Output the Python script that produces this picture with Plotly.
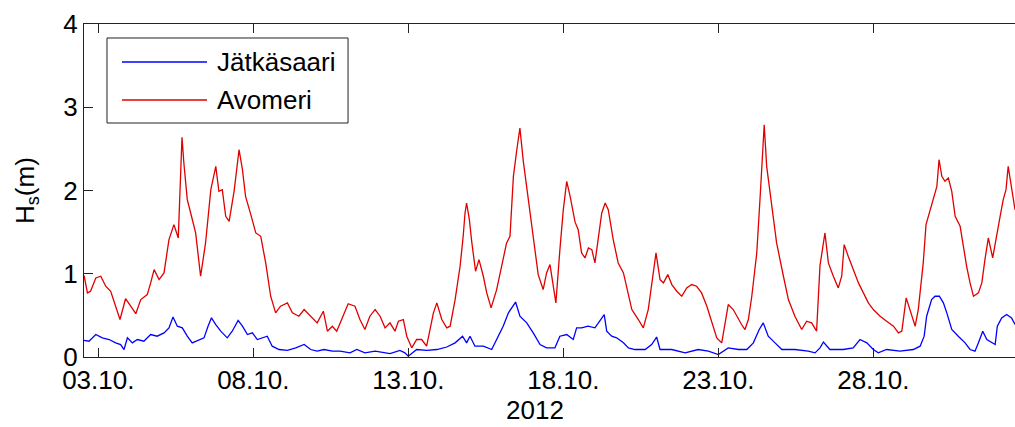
import pandas as pd
import plotly.graph_objects as go

# ---- data (days since 2012-10-03 00:00, significant wave height in m) ----
avomeri_days = [-0.46, -0.35, -0.25, -0.08, 0.08, 0.24, 0.40, 0.56, 0.70, 0.88, 1.05, 1.21, 1.37, 1.58,
                1.69, 1.80, 1.96, 2.12, 2.28, 2.44, 2.58, 2.66, 2.70, 2.76, 2.87, 2.98, 3.14, 3.30, 3.46,
                3.63, 3.79, 3.89, 4.00, 4.11, 4.22, 4.38, 4.54, 4.65, 4.75, 4.92, 5.08, 5.24, 5.40, 5.56,
                5.72, 5.88, 6.10, 6.26, 6.47, 6.64, 6.85, 7.06, 7.26, 7.39, 7.55, 7.69, 7.85, 8.06, 8.28,
                8.44, 8.60, 8.76, 8.93, 9.09, 9.25, 9.41, 9.57, 9.68, 9.84, 9.95, 10.11, 10.27, 10.43,
                10.59, 10.70, 10.81, 10.92, 11.08, 11.24, 11.35, 11.51, 11.67, 11.77, 11.83, 11.88, 11.97,
                12.05, 12.17, 12.28, 12.42, 12.53, 12.67, 12.85, 13.01, 13.17, 13.28, 13.39, 13.50, 13.60,
                13.71, 13.82, 13.98, 14.09, 14.19, 14.35, 14.46, 14.57, 14.68, 14.76, 14.89, 15.00, 15.11,
                15.22, 15.38, 15.48, 15.59, 15.70, 15.81, 15.92, 16.02, 16.13, 16.24, 16.35, 16.45, 16.61,
                16.77, 16.94, 17.10, 17.21, 17.42, 17.58, 17.74, 17.88, 17.99, 18.12, 18.23, 18.37, 18.50,
                18.66, 18.82, 18.98, 19.14, 19.30, 19.46, 19.63, 19.79, 19.95, 20.11, 20.22, 20.32, 20.48,
                20.65, 20.75, 20.86, 20.97, 21.08, 21.24, 21.35, 21.42, 21.48, 21.56, 21.72, 21.88, 22.10,
                22.26, 22.47, 22.69, 22.85, 23.01, 23.17, 23.28, 23.44, 23.55, 23.71, 23.87, 23.98, 24.06,
                24.19, 24.35, 24.52, 24.68, 24.84, 25.00, 25.22, 25.43, 25.65, 25.81, 25.92, 26.06, 26.18,
                26.35, 26.45, 26.61, 26.70, 26.83, 26.94, 27.05, 27.12, 27.21, 27.31, 27.42, 27.53, 27.64,
                27.80, 27.90, 28.01, 28.12, 28.23, 28.39, 28.50, 28.60, 28.71, 28.85, 28.98, 29.09, 29.19,
                29.28, 29.35, 29.46, 29.57]
avomeri_hs = [0.98, 0.77, 0.79, 0.95, 0.97, 0.85, 0.79, 0.60, 0.45, 0.70, 0.60, 0.52, 0.69, 0.75,
              0.89, 1.05, 0.93, 1.01, 1.41, 1.59, 1.43, 2.29, 2.64, 2.33, 1.89, 1.73, 1.49, 0.97, 1.37,
              2.01, 2.29, 1.99, 2.01, 1.69, 1.63, 1.99, 2.49, 2.25, 1.93, 1.71, 1.49, 1.45, 1.13, 0.73,
              0.53, 0.61, 0.65, 0.53, 0.49, 0.57, 0.49, 0.41, 0.55, 0.31, 0.37, 0.31, 0.45, 0.64, 0.61,
              0.45, 0.33, 0.49, 0.57, 0.49, 0.35, 0.41, 0.31, 0.43, 0.45, 0.25, 0.11, 0.21, 0.21,
              0.13, 0.33, 0.53, 0.65, 0.45, 0.35, 0.37, 0.69, 1.09, 1.45, 1.73, 1.85, 1.65,
              1.37, 1.03, 1.17, 0.97, 0.77, 0.59, 0.81, 1.09, 1.37, 1.45, 2.17, 2.49, 2.75,
              2.35, 2.05, 1.61, 1.29, 0.99, 0.81, 1.01, 1.11, 0.81, 0.65, 1.29, 1.77, 2.11,
              1.93, 1.62, 1.53, 1.25, 1.19, 1.31, 1.29, 1.13, 1.41, 1.73, 1.85, 1.77, 1.41,
              1.13, 1.01, 0.73, 0.57, 0.45, 0.35, 0.57, 0.97, 1.25, 0.93, 0.89, 0.99, 0.87,
              0.79, 0.73, 0.83, 0.87, 0.85, 0.77, 0.61, 0.41, 0.23, 0.17, 0.41, 0.63, 0.57,
              0.45, 0.39, 0.33, 0.45, 0.73, 1.25, 1.93, 2.37, 2.79, 2.29, 1.85, 1.37, 0.97,
              0.69, 0.49, 0.33, 0.43, 0.41, 0.31, 1.10, 1.49, 1.13, 0.97, 0.83, 0.97, 1.35,
              1.21, 1.05, 0.89, 0.77, 0.65, 0.57, 0.49, 0.43, 0.37, 0.29, 0.31, 0.71, 0.57,
              0.37, 0.57, 1.13, 1.59, 1.77, 1.89, 2.05, 2.37, 2.17, 2.11, 2.15, 1.99, 1.69,
              1.57, 1.33, 1.09, 0.89, 0.73, 0.77, 0.89, 1.17, 1.43, 1.19, 1.49, 1.69, 1.89,
              2.01, 2.29, 2.05, 1.77]

jatkasaari_days = [-0.46, -0.30, -0.08, 0.13, 0.35, 0.56, 0.72, 0.83, 0.94, 1.10, 1.26, 1.47, 1.69, 1.90,
                   2.12, 2.28, 2.41, 2.55, 2.71, 2.87, 3.03, 3.25, 3.41, 3.54, 3.65, 3.79, 3.95, 4.16,
                   4.32, 4.51, 4.65, 4.81, 4.97, 5.13, 5.29, 5.45, 5.61, 5.83, 6.10, 6.37, 6.64, 6.85,
                   7.06, 7.28, 7.55, 7.80, 8.12, 8.34, 8.60, 8.93, 9.41, 9.73, 9.89, 10.00, 10.27, 10.59,
                   10.92, 11.24, 11.51, 11.75, 11.88, 11.99, 12.15, 12.42, 12.69, 12.85, 13.06, 13.23,
                   13.46, 13.60, 13.82, 14.03, 14.25, 14.46, 14.73, 14.89, 15.11, 15.32, 15.43, 15.59,
                   15.80, 16.02, 16.18, 16.32, 16.40, 16.56, 16.72, 16.94, 17.10, 17.31, 17.64, 17.85,
                   18.01, 18.12, 18.50, 18.93, 19.35, 19.68, 20.00, 20.32, 20.65, 20.92, 21.13, 21.32,
                   21.45, 21.61, 21.83, 22.05, 22.47, 22.90, 23.12, 23.28, 23.39, 23.60, 24.03, 24.35,
                   24.57, 24.79, 25.00, 25.16, 25.43, 25.86, 26.29, 26.51, 26.64, 26.72, 26.88, 26.99,
                   27.13, 27.26, 27.37, 27.53, 27.74, 27.96, 28.12, 28.28, 28.39, 28.53, 28.66, 28.82,
                   28.93, 29.00, 29.14, 29.30, 29.46, 29.57]
jatkasaari_hs = [0.20, 0.19, 0.27, 0.23, 0.21, 0.17, 0.15, 0.09, 0.23, 0.17, 0.21, 0.19, 0.27, 0.25,
                 0.29, 0.35, 0.48, 0.37, 0.35, 0.25, 0.17, 0.21, 0.23, 0.37, 0.47, 0.39, 0.31, 0.23,
                 0.31, 0.44, 0.37, 0.27, 0.29, 0.21, 0.23, 0.25, 0.13, 0.09, 0.08, 0.11, 0.15, 0.09,
                 0.07, 0.09, 0.07, 0.07, 0.05, 0.09, 0.05, 0.07, 0.04, 0.08, 0.05, 0.01, 0.09, 0.08,
                 0.09, 0.12, 0.17, 0.25, 0.17, 0.25, 0.13, 0.13, 0.09, 0.21, 0.37, 0.53,
                 0.66, 0.49, 0.41, 0.29, 0.15, 0.11, 0.11, 0.25, 0.27, 0.21, 0.35, 0.35,
                 0.37, 0.35, 0.43, 0.51, 0.31, 0.25, 0.23, 0.17, 0.11, 0.09, 0.09, 0.15,
                 0.24, 0.09, 0.09, 0.05, 0.09, 0.07, 0.03, 0.11, 0.09, 0.09, 0.17, 0.33,
                 0.41, 0.25, 0.17, 0.09, 0.09, 0.07, 0.05, 0.11, 0.18, 0.09, 0.09, 0.11,
                 0.21, 0.17, 0.09, 0.05, 0.09, 0.07, 0.09, 0.13, 0.25, 0.49, 0.69, 0.73,
                 0.73, 0.65, 0.53, 0.33, 0.25, 0.17, 0.09, 0.07, 0.17, 0.31, 0.21, 0.17,
                 0.15, 0.37, 0.47, 0.51, 0.47, 0.39]

tick_dates = ["2012-10-03", "2012-10-08", "2012-10-13", "2012-10-18", "2012-10-23", "2012-10-28"]
tick_labels = ["03.10.", "08.10.", "13.10.", "18.10.", "23.10.", "28.10."]
series_names = ["Jätkäsaari", "Avomeri"]
series_colors = ["#0000FF", "#E00000"]
x_title = "2012"
y_title = "H<sub>s</sub>(m)"

base = pd.Timestamp("2012-10-03")
def to_time(days):
    return base + pd.to_timedelta(days, unit="D")

FONT = "Arial, 'Liberation Sans', Helvetica, sans-serif"

fig = go.Figure()
fig.add_trace(go.Scatter(x=to_time(jatkasaari_days), y=jatkasaari_hs, mode="lines",
                         name=series_names[0], line=dict(color=series_colors[0], width=1.3)))
fig.add_trace(go.Scatter(x=to_time(avomeri_days), y=avomeri_hs, mode="lines",
                         name=series_names[1], line=dict(color=series_colors[1], width=1.3)))

fig.update_layout(
    width=1015, height=427, autosize=False,
    margin=dict(l=84, r=0, t=24, b=70, autoexpand=False),
    paper_bgcolor="white", plot_bgcolor="white",
    showlegend=False,
    font=dict(family=FONT, size=26, color="black"),
)
fig.update_xaxes(
    type="date", automargin=False,
    range=[to_time(-0.461), to_time(29.57)],
    tickvals=[pd.Timestamp(d) for d in tick_dates], ticktext=tick_labels,
    ticks="inside", ticklen=9, tickwidth=1, tickcolor="#222",
    showline=True, linecolor="#222", linewidth=1, mirror="ticks",
    showgrid=False, zeroline=False,
    tickfont=dict(size=26),
)
fig.update_yaxes(
    range=[0, 4], tickvals=[0, 1, 2, 3, 4], automargin=False,
    ticks="inside", ticklen=9, tickwidth=1, tickcolor="#222",
    showline=True, linecolor="#222", linewidth=1, mirror=False,
    showgrid=False, zeroline=False,
    tickfont=dict(size=26),
)

# axis titles
fig.add_annotation(xref="paper", yref="paper", x=0.4844, y=-0.159, text=x_title, showarrow=False,
                   xanchor="center", yanchor="middle", font=dict(size=26, color="black"))
fig.add_annotation(xref="paper", yref="paper", x=-0.0612, y=0.4985, text=y_title, showarrow=False,
                   textangle=-90, xanchor="center", yanchor="middle", font=dict(size=26, color="black"))

# legend box (MATLAB style)
fig.add_shape(type="rect", xref="paper", yref="paper", x0=0.0247, x1=0.2836, y0=0.7027, y1=0.958,
              line=dict(color="#222", width=1), fillcolor="white", layer="above")
for nm, col, yy in zip(series_names, series_colors, [0.8859, 0.7718]):
    fig.add_shape(type="line", xref="paper", yref="paper", x0=0.0408, x1=0.1321, y0=yy, y1=yy,
                  line=dict(color=col, width=1.3), layer="above")
    fig.add_annotation(xref="paper", yref="paper", x=0.1407, y=yy, text=nm, showarrow=False,
                       xanchor="left", yanchor="middle", font=dict(size=26, color="black"))

post_js = ("document.body.style.margin='0';document.body.style.overflow='hidden';"
           "var gd=document.getElementById('{plot_id}');"
           "Plotly.relayout(gd,{width:1015,height:427});")
fig.write_html("out.html", config={"responsive": False, "displayModeBar": False},
               post_script=post_js)
